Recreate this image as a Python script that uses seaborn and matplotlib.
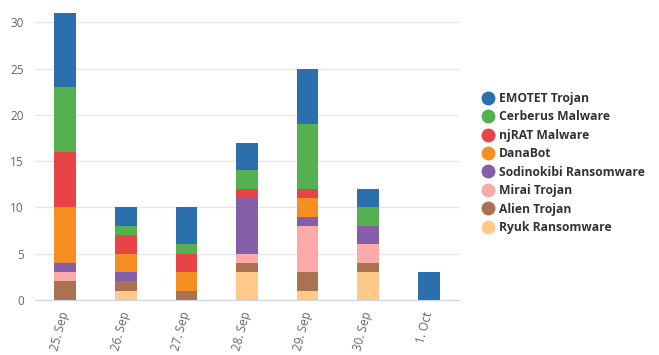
import numpy as np
import pandas as pd
import matplotlib
matplotlib.use('agg')
import matplotlib.pyplot as plt
import seaborn as sns
from matplotlib.lines import Line2D

days = ["25. Sep", "26. Sep", "27. Sep", "28. Sep", "29. Sep", "30. Sep", "1. Oct"]

# series in legend order (top of stack first)
emotet     = [8, 2, 4, 3, 6, 2, 3]
cerberus   = [7, 1, 1, 2, 7, 2, 0]
njrat      = [6, 2, 2, 1, 1, 0, 0]
danabot    = [6, 2, 2, 0, 2, 0, 0]
sodinokibi = [1, 1, 0, 6, 1, 2, 0]
mirai      = [1, 0, 0, 1, 5, 2, 0]
alien      = [2, 1, 1, 1, 2, 1, 0]
ryuk       = [0, 1, 0, 3, 1, 3, 0]

names = ["EMOTET Trojan", "Cerberus Malware", "njRAT Malware", "DanaBot",
         "Sodinokibi Ransomware", "Mirai Trojan", "Alien Trojan", "Ryuk Ransomware"]
colors = ["#2b6fad", "#55b050", "#e84346", "#f78e24",
          "#845ea8", "#fca9a9", "#aa7250", "#fec989"]

df = pd.DataFrame({"day": days, names[0]: emotet, names[1]: cerberus, names[2]: njrat,
                   names[3]: danabot, names[4]: sodinokibi, names[5]: mirai,
                   names[6]: alien, names[7]: ryuk})

sns.set_style("white")
plt.rcParams['font.family'] = ['Open Sans', 'DejaVu Sans']

fig = plt.figure(figsize=(6.59, 3.55), dpi=100)
ax = fig.add_axes([35/659, 55/355, 424/659, 287/355])

# classic seaborn stacking: draw cumulative totals, tallest first
for i, (name, col) in enumerate(zip(names, colors)):
    cum = df[names[i:]].sum(axis=1)
    sns.barplot(x=df["day"], y=cum, color=col, width=0.36, ax=ax,
                saturation=1, linewidth=0, order=days)

ax.set_ylim(0, 31)
ax.set_yticks([0, 5, 10, 15, 20, 25, 30])
ax.yaxis.grid(True, color="#e6e6e6", linewidth=1)
ax.set_axisbelow(True)
ax.set_xlabel("")
ax.set_ylabel("")
for s in ["top", "right", "left"]:
    ax.spines[s].set_visible(False)
ax.spines["bottom"].set_color("#ccd6eb")
ax.tick_params(axis="y", length=0, labelsize=8.5, labelcolor="#666666", pad=8)
ax.tick_params(axis="x", length=5, color="#ccd6eb", labelsize=8.5, labelcolor="#666666")
plt.setp(ax.get_xticklabels(), rotation=75, ha="right", va="center", rotation_mode="anchor")

handles = [Line2D([0], [0], marker="o", linestyle="", markersize=9,
                  markerfacecolor=c, markeredgecolor=c) for c in colors]
leg = fig.legend(handles, names, loc="upper left", bbox_to_anchor=(470/659, 1 - 81/355),
                 frameon=False, handletextpad=0.3, labelspacing=0.45, fontsize=8.7,
                 handlelength=1.2)
for t in leg.get_texts():
    t.set_fontweight("bold")
    t.set_color("#333333")

plt.savefig("out.png", dpi=100)
